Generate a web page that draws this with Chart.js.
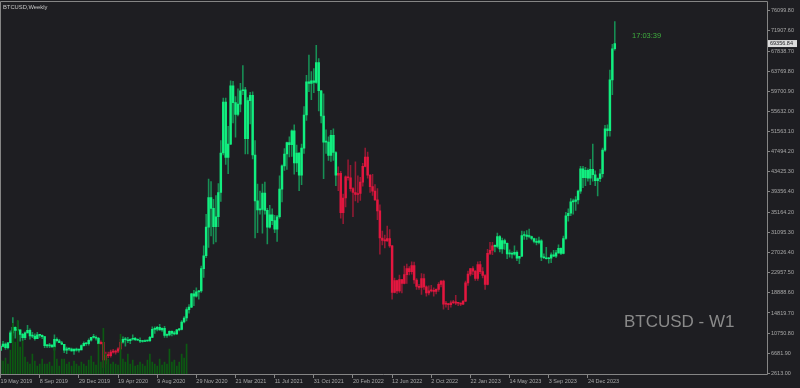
<!DOCTYPE html>
<html lang="en">
<head>
    <meta charset="UTF-8">
    <title>BTCUSD Weekly</title>
    <script src="https://cdn.jsdelivr.net/npm/chart.js@4.4.0/dist/chart.umd.min.js"></script>
    <style>
        html, body {
            margin: 0;
            padding: 0;
            background: #1e1e22;
            overflow: hidden;
        }
        #wrap {
            width: 800px;
            height: 388px;
        }
    </style>
</head>
<body>
<div id="wrap"><canvas id="btc" width="800" height="388"></canvas></div>
<script>
    // weekly bars, first bar = week of 19 May 2019
    const opens = [
        7260, 8050, 8550, 7800, 8800, 10800, 11900, 11300, 11400, 10500, 9800, 10800, 11300, 10200, 10150, 9600,
        10400, 10300, 10050, 8200, 8150, 8300, 7950, 9500, 9200, 8800, 8500, 7300, 7550, 7500, 7150, 7500,
        7300, 7350, 8200, 8700, 8600, 9300, 9900, 9900, 9700, 8600, 8900, 5300, 6200, 6200, 6900, 6900,
        7100, 7550, 8900, 9500, 9400, 9200, 9500, 9700, 9400, 9300, 9100, 9050, 9250, 9150, 9900, 11500,
        11550, 11900, 11400, 11700, 10300, 10400, 11100, 10700, 10600, 11400, 11500, 13000, 13800, 15500, 16000, 18700,
        18200, 19100, 19300, 23800, 26400, 32200, 38200, 36000, 32300, 34300, 39200, 47200, 57500, 46300, 49000, 60800,
        57400, 55000, 57100, 59800, 60000, 50100, 57800, 58900, 46800, 37500, 35700, 35800, 39100, 35600, 32200, 34700,
        33500, 31800, 34300, 39900, 44600, 47000, 49300, 48900, 51700, 45200, 47200, 42700, 48200, 54900, 61600, 61300,
        61800, 61500, 65500, 59800, 54700, 49400, 49400, 46700, 50800, 47300, 42700, 43100, 35100, 38100, 42400, 42200,
        40000, 39200, 38800, 39000, 41300, 44500, 46400, 42700, 40400, 39500, 37700, 35500, 30000, 29500, 29400, 29900,
        28400, 19000, 21400, 19300, 21600, 20800, 22600, 23800, 23200, 24400, 21500, 20200, 20000, 21800, 20100, 18900,
        19300, 19400, 19200, 19600, 20600, 21300, 16600, 16600, 16500, 16900, 17100, 16800, 16800, 16600, 17200, 20900,
        22700, 23800, 23300, 21800, 24600, 23200, 22400, 20600, 26900, 27500, 28400, 28300, 30300, 27800, 29500, 28900,
        26800, 26800, 26700, 27100, 25900, 26300, 30500, 30600, 30300, 30300, 29900, 29300, 29100, 29400, 26100, 26000,
        25800, 25900, 26600, 26300, 27000, 27900, 26900, 29900, 34500, 35000, 37300, 37400, 37700, 39500, 44000, 42200,
        43700, 42100, 43900, 42800, 41600, 42000, 43000, 47800, 52100, 51700, 62000, 68300
    ];
    const highs = [
        8300, 9080, 8800, 8900, 11200, 13900, 12000, 13200, 11400, 10700, 11000, 12300, 11600, 10900, 10600, 10900,
        10500, 10400, 10100, 8500, 8700, 8450, 10400, 9800, 9500, 9100, 8500, 7900, 7700, 7700, 7500, 7700,
        7500, 8400, 9000, 8800, 9600, 9900, 10500, 10200, 9900, 9200, 8900, 6900, 6900, 7300, 7450, 7300,
        7800, 9500, 10000, 9900, 9900, 9600, 10400, 9900, 9600, 9800, 9300, 9400, 9350, 10100, 12000, 12000,
        12100, 12500, 11800, 12100, 10600, 11200, 11200, 11100, 11500, 11700, 13300, 14100, 15900, 16500, 18800, 19400,
        19900, 19400, 24300, 28400, 34800, 41900, 41400, 37800, 38600, 41000, 49700, 58300, 58300, 52600, 61800, 61700,
        58600, 60200, 61300, 64900, 60500, 58400, 59500, 59600, 49700, 40900, 39500, 40900, 41300, 36000, 36600, 35900,
        34600, 34600, 42600, 44800, 48100, 49400, 50500, 51900, 52900, 48800, 47300, 49000, 56600, 62900, 67000, 63700,
        64300, 69000, 66300, 59900, 59200, 51900, 50500, 51800, 52100, 47500, 44400, 43500, 38900, 42600, 45800, 44700,
        40200, 45400, 42600, 42300, 45100, 48200, 47400, 42900, 42900, 40800, 40000, 36700, 31400, 30600, 32400, 31700,
        28500, 21900, 21500, 22500, 21600, 24300, 24700, 24200, 25200, 25100, 21800, 20600, 22800, 22700, 20300, 20300,
        20400, 19900, 19700, 21000, 21400, 21500, 17200, 16800, 17300, 17400, 18400, 17000, 16900, 17400, 21300, 23300,
        23800, 24200, 23400, 25200, 25300, 24000, 22600, 27700, 29100, 29100, 28600, 31000, 30500, 30000, 29800, 29000,
        27600, 27200, 28400, 27400, 26300, 31400, 31300, 31500, 31800, 30400, 30000, 29900, 30200, 29700, 26800, 28100,
        26100, 27000, 27500, 27500, 28600, 28000, 30400, 35200, 35900, 38000, 37900, 38400, 39700, 44500, 44500, 44300,
        44000, 45900, 49000, 43600, 42200, 43900, 48200, 52800, 52900, 64000, 69200, 73800
    ];
    const lows = [
        7250, 7950, 7450, 7550, 8750, 10300, 9700, 11100, 9100, 9200, 9400, 10800, 9500, 9800, 9300, 9600,
        9900, 9600, 7800, 7800, 7800, 7900, 7300, 8900, 8800, 8400, 6800, 6600, 7200, 7100, 6450, 7100,
        6900, 7350, 8100, 8250, 8300, 9100, 9700, 9300, 8500, 8500, 3800, 4500, 5800, 5900, 6700, 6500,
        6800, 7500, 8700, 8100, 8800, 8600, 9300, 9200, 9250, 8800, 8900, 9000, 9050, 9100, 9800, 10700,
        11200, 11350, 11100, 9900, 9900, 10200, 10200, 10400, 10500, 11200, 11400, 12800, 13200, 14800, 15900, 16300,
        18000, 17600, 19000, 22000, 26000, 28100, 30400, 28800, 29200, 32300, 37400, 46800, 44900, 43000, 48900, 53300,
        50400, 54700, 55500, 59000, 47000, 47000, 53100, 46000, 30000, 31100, 34800, 31000, 34800, 28800, 32000, 32700,
        31100, 29300, 34000, 37300, 43700, 43900, 46400, 46500, 42900, 43400, 39600, 40800, 47100, 53800, 59600, 58000,
        59400, 61300, 55700, 53300, 42000, 47100, 45700, 45500, 45700, 40600, 39600, 34000, 32900, 36300, 41700, 39500,
        34300, 37500, 37200, 37600, 40500, 44400, 42100, 39200, 38600, 37600, 33700, 26700, 28600, 28000, 29300, 28100,
        17600, 18900, 18800, 19000, 18900, 20700, 20800, 22500, 22700, 20800, 19600, 19600, 18600, 19600, 18200, 18500,
        19100, 18200, 18700, 19200, 20100, 15600, 16000, 15500, 16000, 16700, 16500, 16300, 16300, 16500, 17100, 20400,
        22300, 22600, 21400, 21400, 22800, 21900, 19600, 20500, 26600, 26600, 27200, 28000, 27200, 26900, 27700, 25800,
        26100, 25900, 26500, 25400, 24800, 26200, 29700, 29700, 30000, 29600, 29000, 28600, 28800, 25400, 25800, 25700,
        24900, 25000, 26200, 26000, 26900, 26600, 26800, 29700, 33400, 34500, 34800, 35600, 36900, 39000, 40200, 40600,
        41500, 40800, 41500, 40600, 38500, 41400, 42300, 47500, 50600, 50600, 59000, 68000
    ];
    const closes = [
        8050, 8550, 7800, 8800, 10800, 11900, 11300, 11400, 10500, 9800, 10800, 11300, 10200, 10150, 9600, 10400,
        10300, 10050, 8200, 8150, 8300, 7950, 9500, 9200, 8800, 8500, 7300, 7550, 7500, 7150, 7500, 7300,
        7350, 8200, 8700, 8600, 9300, 9900, 9900, 9700, 8600, 8900, 5300, 6200, 6200, 6900, 6900, 7100,
        7550, 8900, 9500, 9400, 9200, 9500, 9700, 9400, 9300, 9100, 9050, 9250, 9150, 9900, 11500, 11550,
        11900, 11400, 11700, 10300, 10400, 11100, 10700, 10600, 11400, 11500, 13000, 13800, 15500, 16000, 18700, 18200,
        19100, 19300, 23800, 26400, 32200, 38200, 36000, 32300, 34300, 39200, 47200, 57500, 46300, 49000, 60800, 57400,
        55000, 57100, 59800, 60000, 50100, 57800, 58900, 46800, 37500, 35700, 35800, 39100, 35600, 32200, 34700, 33500,
        31800, 34300, 39900, 44600, 47000, 49300, 48900, 51700, 45200, 47200, 42700, 48200, 54900, 61600, 61300, 61800,
        61500, 65500, 59800, 54700, 49400, 49400, 46700, 50800, 47300, 42700, 43100, 35100, 38100, 42400, 42200, 40000,
        39200, 38800, 39000, 41300, 44500, 46400, 42700, 40400, 39500, 37700, 35500, 30000, 29500, 29400, 29900, 28400,
        19000, 21400, 19300, 21600, 20800, 22600, 23800, 23200, 24400, 21500, 20200, 20000, 21800, 20100, 18900, 19300,
        19400, 19200, 19600, 20600, 21300, 16600, 16600, 16500, 16900, 17100, 16800, 16800, 16600, 17200, 20900, 22700,
        23800, 23300, 21800, 24600, 23200, 22400, 20600, 26900, 27500, 28400, 28300, 30300, 27800, 29500, 28900, 26800,
        26800, 26700, 27100, 25900, 26300, 30500, 30600, 30300, 30300, 29900, 29300, 29100, 29400, 26100, 26000, 25800,
        25900, 26600, 26300, 27000, 27900, 26900, 29900, 34500, 35000, 37300, 37400, 37700, 39500, 44000, 42200, 43700,
        42100, 43900, 42800, 41600, 42000, 43000, 47800, 52100, 51700, 62000, 68300, 69356.84
    ];
    // tick volume, only drawn for the first weeks of the history
    const volumes = [
        14, 13, 16, 10, 24, 51, 32, 54, 27, 33, 17, 12, 10, 20, 13, 8,
        10, 15, 10, 10, 12, 8, 27, 15, 8, 15, 15, 10, 12, 8, 13, 10,
        8, 12, 10, 8, 14, 18, 12, 9, 30, 12, 46, 20, 15, 10, 12, 10,
        9, 40, 15, 12, 20, 10, 14, 8, 9, 12, 10, 8, 14, 20, 12, 10,
        8, 15, 9, 12, 10, 25, 12, 14, 8, 12, 20, 16, 30
    ];
    // weeks where the trend colour is red
    const redRanges = [[41, 49], [138, 201]];

    const tickWeeks = [0, 16, 32, 48, 64, 80, 96, 112, 128, 144, 160, 176, 192, 208, 224, 240];
    const tickLabels = ['19 May 2019', '8 Sep 2019', '29 Dec 2019', '19 Apr 2020', '9 Aug 2020', '29 Nov 2020',
        '21 Mar 2021', '11 Jul 2021', '31 Oct 2021', '20 Feb 2022', '12 Jun 2022', '2 Oct 2022',
        '22 Jan 2023', '14 May 2023', '3 Sep 2023', '24 Dec 2023'];
    const priceTicks = [2613.00, 6681.90, 10750.80, 14819.70, 18888.60, 22957.50, 27026.40, 31095.30, 35164.20,
        39356.40, 43425.30, 47494.20, 51563.10, 55632.00, 59700.90, 63769.80, 67838.70, 71907.60, 76099.80];

    const GREEN = '#12ef80';
    const RED = '#e3173f';

    function isRed(i) {
        return redRanges.some(r => i >= r[0] && i <= r[1]);
    }

    const bodyColors = opens.map((o, i) => isRed(i) ? RED : GREEN);
    const wickColors = opens.map((o, i) => isRed(i) ? 'rgba(227,23,63,0.6)' : 'rgba(18,239,128,0.55)');

    const framePlugin = {
        id: 'frame',
        beforeDatasetsDraw(chart) {
            const ctx = chart.ctx;
            ctx.save();
            ctx.fillStyle = '#8a8a8a';
            ctx.font = '17px "Liberation Sans", Arial, sans-serif';
            ctx.textBaseline = 'middle';
            ctx.textAlign = 'left';
            ctx.fillText('BTCUSD - W1', 624, 322);
            ctx.restore();
        },
        afterDraw(chart) {
            const ctx = chart.ctx;
            const a = chart.chartArea;
            ctx.save();
            ctx.strokeStyle = '#858585';
            ctx.lineWidth = 1;
            ctx.beginPath();
            ctx.moveTo(0.5, a.bottom + 0.5);
            ctx.lineTo(0.5, 1.5);
            ctx.lineTo(a.right + 0.5, 1.5);
            ctx.lineTo(a.right + 0.5, a.bottom + 0.5);
            ctx.lineTo(0, a.bottom + 0.5);
            ctx.stroke();

            ctx.fillStyle = '#c8c8c8';
            ctx.font = '5.8px "Liberation Sans", Arial, sans-serif';
            ctx.textBaseline = 'middle';
            ctx.fillText('BTCUSD,Weekly', 3, 7.5);

            ctx.fillStyle = '#3fae3f';
            ctx.font = '7.5px "Liberation Sans", Arial, sans-serif';
            ctx.fillText('17:03:39', 632, 36);

            // current price tag on the axis
            const last = closes[closes.length - 1];
            const py = chart.scales.y.getPixelForValue(last);
            ctx.fillStyle = '#dcdcdc';
            ctx.fillRect(768, py - 3.5, 29, 7);
            ctx.fillStyle = '#1e1e22';
            ctx.font = '5.5px "Liberation Sans", Arial, sans-serif';
            ctx.fillText(last.toFixed(2), 770, py);
            ctx.restore();
        }
    };

    new Chart(document.getElementById('btc'), {
        type: 'bar',
        data: {
            datasets: [
                {
                    label: 'volume',
                    data: volumes.map((v, i) => ({x: i, y: v})),
                    yAxisID: 'yv',
                    backgroundColor: '#0c5a12',
                    barThickness: 1,
                    grouped: false
                },
                {
                    label: 'wick',
                    data: lows.map((l, i) => ({x: i, y: [l, highs[i]]})),
                    backgroundColor: wickColors,
                    barThickness: 0.9,
                    grouped: false
                },
                {
                    label: 'body',
                    data: opens.map((o, i) => ({x: i, y: [o, closes[i]]})),
                    backgroundColor: bodyColors,
                    barThickness: 1.8,
                    minBarLength: 1,
                    grouped: false
                }
            ]
        },
        options: {
            responsive: false,
            animation: false,
            events: [],
            layout: {padding: {top: 2, left: 0, right: 0, bottom: 0}},
            plugins: {
                legend: {display: false},
                tooltip: {enabled: false}
            },
            scales: {
                x: {
                    type: 'linear',
                    min: -0.245,
                    max: 313.2,
                    offset: false,
                    grid: {display: true, offset: false, drawOnChartArea: false, drawTicks: true, tickLength: 4, color: '#858585'},
                    border: {display: false},
                    afterBuildTicks(scale) {
                        scale.ticks = tickWeeks.map(v => ({value: v}));
                    },
                    afterFit(scale) {
                        scale.height = 14;
                    },
                    ticks: {
                        autoSkip: false,
                        maxRotation: 0,
                        align: 'start',
                        padding: 0,
                        color: '#a8a8a8',
                        font: {family: '"Liberation Sans", Arial, sans-serif', size: 5.5},
                        callback: (v) => tickLabels[tickWeeks.indexOf(v)] || ''
                    }
                },
                y: {
                    type: 'linear',
                    position: 'right',
                    min: 2471,
                    max: 77300,
                    grid: {display: true, drawOnChartArea: false, drawTicks: true, tickLength: 3, color: '#858585'},
                    border: {display: false},
                    afterBuildTicks(scale) {
                        scale.ticks = priceTicks.map(v => ({value: v}));
                    },
                    afterFit(scale) {
                        scale.width = 33;
                    },
                    ticks: {
                        autoSkip: false,
                        padding: 1,
                        color: '#a8a8a8',
                        font: {family: '"Liberation Sans", Arial, sans-serif', size: 5.5},
                        callback: (v) => v.toFixed(2)
                    }
                },
                yv: {
                    type: 'linear',
                    display: false,
                    min: 0,
                    max: 372
                }
            }
        },
        plugins: [framePlugin]
    });
</script>
</body>
</html>
